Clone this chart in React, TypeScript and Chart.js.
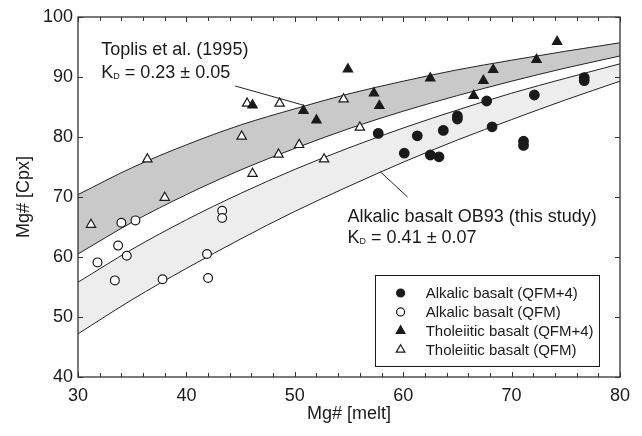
import React, { useEffect, useRef } from 'react';
import { Chart, registerables } from 'chart.js';

Chart.register(...registerables);

// ---- data ----
const alkQFM4X = [57.7, 60.1, 61.3, 62.5, 63.3, 63.7, 65.0, 65.0, 67.7, 68.2, 71.1, 71.1, 72.1, 76.7, 76.7];
const alkQFM4Y = [80.6, 77.3, 80.2, 77.0, 76.7, 81.1, 83.0, 83.5, 86.0, 81.7, 79.3, 78.6, 87.0, 89.9, 89.4];

const alkQFMX = [31.8, 33.4, 33.7, 34.0, 34.5, 35.3, 37.8, 41.9, 42.0, 43.3, 43.3];
const alkQFMY = [59.1, 56.1, 61.9, 65.7, 60.2, 66.1, 56.3, 60.5, 56.5, 67.7, 66.5];

const tholQFM4X = [46.1, 50.8, 52.0, 54.9, 57.3, 57.8, 62.5, 66.5, 67.4, 68.3, 72.3, 74.2];
const tholQFM4Y = [85.3, 84.4, 82.8, 91.3, 87.3, 85.2, 89.8, 86.9, 89.4, 91.2, 92.9, 95.9];

const tholQFMX = [31.2, 36.4, 38.0, 45.1, 45.6, 46.1, 48.6, 48.5, 50.4, 52.7, 54.5, 56.0];
const tholQFMY = [65.4, 76.3, 69.9, 80.1, 85.6, 73.9, 85.6, 77.1, 78.7, 76.3, 86.3, 81.6];

const curveX = [30, 35, 40, 45, 50, 55, 60, 65, 70, 75, 80];
const toplisUpper = [70.4, 74.9, 78.7, 82.0, 84.7, 87.2, 89.3, 91.2, 92.8, 94.3, 95.7];
const toplisLower = [60.5, 65.8, 70.4, 74.5, 78.1, 81.4, 84.3, 86.9, 89.3, 91.5, 93.5];
const alkUpper = [55.8, 61.3, 66.2, 70.6, 74.6, 78.2, 81.5, 84.5, 87.3, 89.8, 92.2];
const alkLower = [47.2, 52.9, 58.1, 63.0, 67.6, 71.8, 75.8, 79.5, 82.9, 86.2, 89.3];

const leaderToplisX = [44.5, 50.8];
const leaderToplisY = [88.5, 85.3];
const leaderAlkX = [57.9, 60.4];
const leaderAlkY = [74.2, 70.0];

const xTicks = [30, 40, 50, 60, 70, 80];
const yTicks = [40, 50, 60, 70, 80, 90, 100];

const legendLabels = [
  'Alkalic basalt (QFM+4)',
  'Alkalic basalt (QFM)',
  'Tholeiitic basalt (QFM+4)',
  'Tholeiitic basalt (QFM)',
];

const FONT = '"Liberation Sans", Arial, Helvetica, sans-serif';
const INK = '#1a1a1a';

const pts = (xs: number[], ys: number[]) => xs.map((x, i) => ({ x, y: ys[i] }));

function drawMarker(ctx: CanvasRenderingContext2D, kind: string, filled: boolean, x: number, y: number, r: number) {
  ctx.beginPath();
  if (kind === 'circle') {
    ctx.arc(x, y, r, 0, Math.PI * 2);
  } else {
    const a = -Math.PI / 2;
    for (let i = 0; i < 3; i++) {
      const ang = a + (i * 2 * Math.PI) / 3;
      const px = x + Math.cos(ang) * r;
      const py = y + Math.sin(ang) * r;
      if (i === 0) ctx.moveTo(px, py);
      else ctx.lineTo(px, py);
    }
    ctx.closePath();
  }
  ctx.fillStyle = filled ? INK : '#ffffff';
  ctx.fill();
  ctx.lineWidth = 1.2;
  ctx.strokeStyle = INK;
  ctx.stroke();
}

function drawKD(ctx: CanvasRenderingContext2D, x: number, y: number, rest: string) {
  ctx.font = `18px ${FONT}`;
  ctx.fillText('K', x, y);
  const wK = ctx.measureText('K').width;
  ctx.font = `9px ${FONT}`;
  ctx.fillText('D', x + wK, y + 1);
  const wD = ctx.measureText('D').width;
  ctx.font = `18px ${FONT}`;
  ctx.fillText(rest, x + wK + wD, y);
}

const decor = {
  id: 'decor',
  afterDraw(chart: any) {
    const { ctx, chartArea: a, scales } = chart;
    const xs = scales.x;
    const ys = scales.y;
    const X = (v: number) => xs.getPixelForValue(v);
    const Y = (v: number) => ys.getPixelForValue(v);
    ctx.save();

    // frame
    ctx.strokeStyle = '#333';
    ctx.lineWidth = 1.3;
    ctx.strokeRect(a.left, a.top, a.right - a.left, a.bottom - a.top);

    // ticks (inward)
    ctx.lineWidth = 1;
    ctx.beginPath();
    for (let v = 30; v <= 80; v += 2) {
      const px = Math.round(X(v)) + 0.5;
      const len = v % 10 === 0 ? 5 : 4;
      ctx.moveTo(px, a.bottom);
      ctx.lineTo(px, a.bottom - len);
      ctx.moveTo(px, a.top);
      ctx.lineTo(px, a.top + len);
    }
    for (const v of yTicks) {
      const py = Math.round(Y(v)) + 0.5;
      ctx.moveTo(a.left, py);
      ctx.lineTo(a.left + 5, py);
      ctx.moveTo(a.right, py);
      ctx.lineTo(a.right - 5, py);
    }
    ctx.stroke();

    // annotations
    ctx.fillStyle = INK;
    ctx.textAlign = 'left';
    ctx.textBaseline = 'alphabetic';
    ctx.font = `18px ${FONT}`;
    ctx.fillText('Toplis et al. (1995)', X(32.15), Y(93.6));
    drawKD(ctx, X(32.15), Y(89.8), ' = 0.23 \u00b1 0.05');
    ctx.font = `18px ${FONT}`;
    ctx.fillText('Alkalic basalt OB93 (this study)', X(54.87), Y(65.9));
    drawKD(ctx, X(54.87), Y(62.35), ' = 0.41 \u00b1 0.07');

    // legend box
    const bx0 = X(57.4), bx1 = X(78.1), by0 = Y(57.0), by1 = Y(41.9);
    ctx.fillStyle = '#ffffff';
    ctx.fillRect(bx0, by0, bx1 - bx0, by1 - by0);
    ctx.strokeStyle = INK;
    ctx.lineWidth = 1;
    ctx.strokeRect(Math.round(bx0) + 0.5, Math.round(by0) + 0.5, Math.round(bx1 - bx0), Math.round(by1 - by0));
    const rows = [54.0, 50.85, 47.7, 44.55];
    const kinds = [['circle', true], ['circle', false], ['triangle', true], ['triangle', false]] as const;
    ctx.font = `15px ${FONT}`;
    ctx.textBaseline = 'middle';
    rows.forEach((rv, i) => {
      const cy = Y(rv);
      const [k, f] = kinds[i];
      drawMarker(ctx, k, f, X(59.76), cy, k === 'circle' ? 4 : 5);
      ctx.fillStyle = INK;
      ctx.fillText(legendLabels[i], X(62.07), cy + 1);
    });

    // axis titles
    ctx.font = `18px ${FONT}`;
    ctx.fillStyle = INK;
    ctx.textAlign = 'center';
    ctx.textBaseline = 'middle';
    ctx.fillText('Mg# [melt]', (a.left + a.right) / 2, a.bottom + 37);
    ctx.save();
    ctx.translate(a.left - 54, (a.top + a.bottom) / 2);
    ctx.rotate(-Math.PI / 2);
    ctx.fillText('Mg# [Cpx]', 0, 0);
    ctx.restore();

    ctx.restore();
  },
};

export default function App() {
  const ref = useRef<HTMLCanvasElement | null>(null);

  useEffect(() => {
    document.body.style.margin = '0';
    const canvas = ref.current;
    if (!canvas) return;

    const curveDs = (label: string, ys: number[], fill: any, bg: string) => ({
      label,
      data: pts(curveX, ys),
      showLine: true,
      borderColor: '#222',
      borderWidth: 1,
      pointRadius: 0,
      cubicInterpolationMode: 'monotone',
      fill,
      backgroundColor: bg,
    });

    const pointDs = (label: string, xs: number[], ys: number[], style: string, filled: boolean, r: number) => ({
      label,
      data: pts(xs, ys),
      showLine: false,
      pointStyle: style,
      pointRadius: r,
      pointBackgroundColor: filled ? INK : '#ffffff',
      pointBorderColor: INK,
      pointBorderWidth: 1.2,
      fill: false,
    });

    const chart = new Chart(canvas, {
      type: 'scatter',
      data: {
        datasets: [
          pointDs(legendLabels[0], alkQFM4X, alkQFM4Y, 'circle', true, 4.8),
          pointDs(legendLabels[1], alkQFMX, alkQFMY, 'circle', false, 4.4),
          pointDs(legendLabels[2], tholQFM4X, tholQFM4Y, 'triangle', true, 5.4),
          pointDs(legendLabels[3], tholQFMX, tholQFMY, 'triangle', false, 5.4),
          curveDs('Toplis KD=0.28', toplisLower, false, 'transparent'),
          curveDs('Toplis KD=0.18', toplisUpper, '-1', '#c9c9c9'),
          curveDs('OB93 KD=0.34', alkUpper, false, 'transparent'),
          curveDs('OB93 KD=0.48', alkLower, '-1', '#ededed'),
          {
            label: 'leader1',
            data: pts(leaderToplisX, leaderToplisY),
            showLine: true,
            borderColor: '#222',
            borderWidth: 1,
            pointRadius: 0,
            fill: false,
          },
          {
            label: 'leader2',
            data: pts(leaderAlkX, leaderAlkY),
            showLine: true,
            borderColor: '#222',
            borderWidth: 1,
            pointRadius: 0,
            fill: false,
          },
        ] as any,
      },
      options: {
        animation: false,
        responsive: false,
        events: [],
        layout: { padding: { top: 17, right: 22, left: 0, bottom: 0 } },
        plugins: {
          legend: { display: false },
          tooltip: { enabled: false },
          filler: { drawTime: 'beforeDatasetsDraw' } as any,
        },
        scales: {
          x: {
            type: 'linear',
            min: 30,
            max: 80,
            afterBuildTicks: (s: any) => {
              s.ticks = xTicks.map((v) => ({ value: v }));
            },
            ticks: {
              font: { size: 18, family: FONT },
              color: INK,
              padding: 8,
            },
            grid: { display: false, drawTicks: false },
            border: { display: false },
            afterFit: (s: any) => {
              s.height = 59;
            },
          },
          y: {
            type: 'linear',
            min: 40,
            max: 100,
            afterBuildTicks: (s: any) => {
              s.ticks = yTicks.map((v) => ({ value: v }));
            },
            ticks: {
              font: { size: 18, family: FONT },
              color: INK,
              padding: 5,
            },
            grid: { display: false, drawTicks: false },
            border: { display: false },
            afterFit: (s: any) => {
              s.width = 78;
            },
          },
        },
      },
      plugins: [decor],
    });

    return () => chart.destroy();
  }, []);

  return <canvas ref={ref} width={642} height={436} style={{ display: 'block' }} />;
}
